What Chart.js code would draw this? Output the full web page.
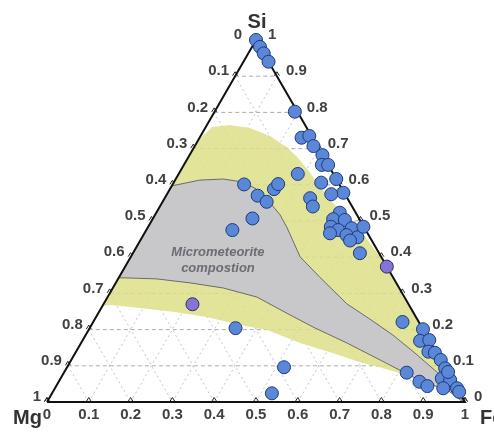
<!DOCTYPE html>
<html lang="en">
<head>
<meta charset="UTF-8">
<title>Si - Mg - Fe ternary</title>
<script src="https://cdn.jsdelivr.net/npm/chart.js@4.4.0/dist/chart.umd.min.js"></script>
<style>
  html, body { margin: 0; padding: 0; background: #fff; }
  #wrap { width: 494px; height: 433px; position: relative; }
</style>
</head>
<body>
<div id="wrap"><canvas id="ternary"></canvas></div>
<script>
// compositions as fractions, Mg = 1 - Fe - Si
const blueFe = [0.000, 0.019, 0.037, 0.060, 0.192, 0.244, 0.260, 0.284, 0.318, 0.330,
                0.345, 0.384, 0.420, 0.285, 0.353, 0.393, 0.348, 0.366, 0.171, 0.219,
                0.249, 0.249, 0.252, 0.238, 0.206, 0.439, 0.432, 0.461, 0.437, 0.459,
                0.489, 0.486, 0.515, 0.502, 0.515, 0.444, 0.543, 0.349, 0.519, 0.526,
                0.740, 0.799, 0.808, 0.829, 0.843, 0.860, 0.884, 0.906, 0.912, 0.934,
                0.929, 0.962, 0.972, 0.820, 0.863, 0.888, 0.918];
const blueSi = [1.000, 0.981, 0.963, 0.940, 0.802, 0.730, 0.735, 0.707, 0.682, 0.655,
                0.655, 0.616, 0.578, 0.630, 0.606, 0.574, 0.563, 0.540, 0.601, 0.570,
                0.553, 0.588, 0.602, 0.507, 0.475, 0.523, 0.505, 0.503, 0.484, 0.475,
                0.480, 0.461, 0.455, 0.446, 0.484, 0.466, 0.411, 0.204, 0.096, 0.024,
                0.221, 0.201, 0.169, 0.171, 0.139, 0.136, 0.116, 0.093, 0.065, 0.061,
                0.038, 0.038, 0.028, 0.081, 0.056, 0.044, 0.083];
const purpleFe = [0.626, 0.213];
const purpleSi = [0.374, 0.270];

// outer (yellow) band and micrometeorite (gray) field outlines
const yellowFe = [0.000, 0.015, 0.055, 0.107, 0.166, 0.222, 0.260, 0.313, 0.356, 0.424,
                  0.482, 0.528, 0.600, 0.721, 0.760, 1.000, 0.950, 0.841, 0.750, 0.694,
                  0.617, 0.524, 0.427, 0.355, 0.265, 0.177, 0.093, 0.017, 0.000, 0.000];
const yellowSi = [0.720, 0.760, 0.765, 0.757, 0.735, 0.704, 0.677, 0.633, 0.594, 0.539,
                  0.500, 0.461, 0.398, 0.276, 0.240, 0.000, 0.028, 0.069, 0.095, 0.110,
                  0.135, 0.163, 0.199, 0.213, 0.235, 0.249, 0.260, 0.268, 0.265, 0.720];
const grayFe = [0.000, 0.059, 0.113, 0.157, 0.202, 0.259, 0.299, 0.334, 0.405, 0.480,
                0.582, 0.658, 0.735, 0.813, 0.903, 0.985, 0.995, 0.950, 0.841, 0.739,
                0.636, 0.533, 0.439, 0.357, 0.264, 0.178, 0.093, 0.015, 0.000, 0.000];
const graySi = [0.597, 0.613, 0.616, 0.609, 0.591, 0.550, 0.517, 0.481, 0.401, 0.345,
                0.271, 0.229, 0.185, 0.135, 0.075, 0.012, 0.000, 0.028, 0.069, 0.116,
                0.163, 0.207, 0.251, 0.290, 0.315, 0.329, 0.340, 0.343, 0.343, 0.597];

const tickValues = [0, 0.1, 0.2, 0.3, 0.4, 0.5, 0.6, 0.7, 0.8, 0.9, 1];
const tickLabels = ['0', '0.1', '0.2', '0.3', '0.4', '0.5', '0.6', '0.7', '0.8', '0.9', '1'];
const cornerLabels = ['Mg', 'Fe', 'Si'];
const regionLabel = ['Micrometeorite', 'compostion'];

const H = Math.sqrt(3) / 2;
function toXY(fe, si) {
    return { x: fe + si / 2, y: si * H };
}
function toPoints(fe, si) {
    return fe.map((f, i) => toXY(f, si[i]));
}

// grid lines: constant Si (dashed), constant Fe and constant Mg (dotted)
const gridSets = [];
tickValues.slice(1, -1).forEach(t => {
    gridSets.push({ type: 'line', data: [toXY(0, t), toXY(1 - t, t)],
        borderColor: 'rgba(150,150,160,0.8)', borderDash: [4, 3] });
    gridSets.push({ type: 'line', data: [toXY(t, 0), toXY(t, 1 - t)],
        borderColor: 'rgba(165,170,200,0.7)', borderDash: [2, 3] });
    gridSets.push({ type: 'line', data: [toXY(0, 1 - t), toXY(1 - t, 0)],
        borderColor: 'rgba(165,170,200,0.7)', borderDash: [2, 3] });
});
gridSets.forEach(d => {
    d.borderWidth = 1;
    d.pointRadius = 0;
    d.fill = false;
    d.order = 5;
});

const labelFont = 'bold 15px "Liberation Sans", Arial, sans-serif';

const ternaryAxes = {
    id: 'ternaryAxes',
    beforeDatasetsDraw(chart) {
        const { ctx, scales: { x, y } } = chart;
        const px = (fe, si) => {
            const p = toXY(fe, si);
            return [x.getPixelForValue(p.x), y.getPixelForValue(p.y)];
        };
        ctx.save();
        ctx.fillStyle = '#414141';
        ctx.strokeStyle = '#222';
        ctx.lineWidth = 1;
        ctx.font = labelFont;
        ctx.textBaseline = 'middle';
        tickValues.forEach((v, i) => {
            // bottom axis: Fe
            const [bx, by] = px(v, 0);
            ctx.textAlign = 'center';
            ctx.fillText(tickLabels[i], bx, by + 13);
            // left axis: Mg
            const [lx, ly] = px(0, 1 - v);
            ctx.textAlign = 'right';
            ctx.fillText(tickLabels[i], lx - (v === 0 ? 14 : 6), ly - 5);
            // right axis: Si
            const [rx, ry] = px(1 - v, v);
            ctx.textAlign = 'left';
            ctx.fillText(tickLabels[i], rx + (v === 1 ? 12 : 9), ry - 5);

            // small caret ticks
            [[bx, by], [lx, ly], [rx, ry]].forEach(([tx, ty]) => {
                ctx.beginPath();
                ctx.moveTo(tx - 2.5, ty - 0.5);
                ctx.lineTo(tx, ty - 4.5);
                ctx.lineTo(tx + 2.5, ty - 0.5);
                ctx.stroke();
            });
        });

        ctx.fillStyle = '#333';
        ctx.font = 'bold 20px "Liberation Sans", Arial, sans-serif';
        const [mx, my] = px(0, 0);
        const [fx, fy] = px(1, 0);
        const [sx, sy] = px(0, 1);
        ctx.textAlign = 'right';
        ctx.fillText(cornerLabels[0], mx - 5, my + 16);
        ctx.textAlign = 'left';
        ctx.fillText(cornerLabels[1], fx + 15, fy + 16);
        ctx.textAlign = 'center';
        ctx.fillText(cornerLabels[2], sx + 1, sy - 18);
        ctx.restore();
    },
    afterDatasetsDraw(chart) {
        const { ctx, scales: { x, y } } = chart;
        const p = toXY(0.202, 0.414);
        const cx = x.getPixelForValue(p.x);
        const cy = y.getPixelForValue(p.y);
        ctx.save();
        ctx.fillStyle = '#6c6c74';
        ctx.font = 'italic bold 13px "Liberation Sans", Arial, sans-serif';
        ctx.textAlign = 'center';
        ctx.textBaseline = 'middle';
        ctx.fillText(regionLabel[0], cx, cy);
        ctx.fillText(regionLabel[1], cx, cy + 16);
        ctx.restore();
    }
};

new Chart(document.getElementById('ternary'), {
    type: 'scatter',
    data: {
        datasets: [
            {
                data: toPoints(blueFe, blueSi),
                backgroundColor: '#5b87d8',
                borderColor: '#1d3b78',
                borderWidth: 1,
                pointRadius: 6.5,
                pointHoverRadius: 6.5,
                clip: false,
                order: 0
            },
            {
                data: toPoints(purpleFe, purpleSi),
                backgroundColor: '#8574d2',
                borderColor: '#32286e',
                borderWidth: 1,
                pointRadius: 6.5,
                pointHoverRadius: 6.5,
                clip: false,
                order: 0
            },
            {
                type: 'line',
                data: [toXY(0, 0), toXY(1, 0), toXY(0, 1), toXY(0, 0)],
                borderColor: '#111',
                borderWidth: 2,
                pointRadius: 0,
                fill: false,
                clip: false,
                order: 1
            },
            {
                type: 'line',
                data: toPoints(grayFe, graySi),
                borderColor: '#6a6a6a',
                borderWidth: 1,
                backgroundColor: 'rgba(198,198,206,0.92)',
                pointRadius: 0,
                fill: 'shape',
                order: 2
            },
            {
                type: 'line',
                data: toPoints(yellowFe, yellowSi),
                borderColor: 'rgba(0,0,0,0)',
                borderWidth: 0,
                backgroundColor: 'rgba(221,223,136,0.85)',
                pointRadius: 0,
                fill: 'shape',
                order: 3
            },
            ...gridSets
        ]
    },
    options: {
        responsive: true,
        maintainAspectRatio: false,
        animation: false,
        events: [],
        layout: { padding: { left: 47, right: 29, top: 40, bottom: 31 } },
        scales: {
            x: { type: 'linear', min: 0, max: 1, display: false },
            y: { type: 'linear', min: 0, max: H, display: false }
        },
        plugins: {
            legend: { display: false },
            tooltip: { enabled: false }
        }
    },
    plugins: [ternaryAxes]
});
</script>
</body>
</html>
